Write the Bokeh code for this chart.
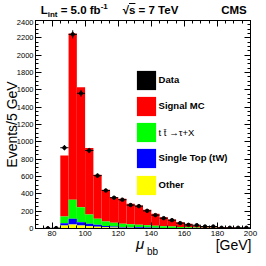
import numpy as np
from bokeh.plotting import figure
from bokeh.layouts import column
from bokeh.models import (LinearAxis, FixedTicker, Legend, LegendItem, Div,
                          Range1d, CustomJSTickFormatter)
from bokeh.embed import file_html
from bokeh.resources import INLINE

# ---------------- data ----------------
bin_lo = [70, 75, 80, 85, 90, 95, 100, 105, 110, 115, 120, 125, 130,
          135, 140, 145, 150, 155, 160, 165, 170, 175, 180, 185, 190, 195]
bin_width = 5
other = [0, 0, 0, 35, 46, 35, 27, 20, 15, 12, 10, 8, 7,
         6, 5, 4, 4, 3, 3, 2, 2, 2, 1, 1, 1, 1]
single_top = [0, 0, 0, 26, 66, 38, 27, 22, 15, 10, 8, 7, 6,
              5, 4, 3, 3, 2, 2, 2, 1, 1, 1, 1, 0, 0]
ttbar = [0, 0, 0, 77, 219, 173, 107, 70, 51, 43, 36, 35, 30,
         26, 22, 18, 15, 12, 10, 8, 7, 5, 4, 3, 3, 2]
signal_mc = [4, 4, 5, 704, 1919, 1384, 767, 507, 365, 296, 288, 235, 222,
             178, 138, 106, 82, 56, 39, 23, 16, 12, 9, 7, 5, 4]
data = [0, 2, 4, 932, 2240, 1560, 900, 610, 438, 355, 332, 270, 258,
        204, 154, 119, 96, 62, 42, 38, 23, 23, 8, 8, 8, 8]
data_err = [0, 25, 25, 30.5, 47.3, 39.5, 30, 24.7, 21, 18.8, 18.2, 16.4, 16,
            14.3, 12.4, 10.9, 9.8, 7.9, 6.5, 6.2, 4.8, 4.8, 2.8, 2.8, 2.8, 2.8]
x_major_ticks = [80, 100, 120, 140, 160, 180, 200]
x_minor_ticks = list(range(70, 201, 5))
y_major_ticks = list(range(0, 2401, 200))
y_minor_ticks = list(range(0, 2401, 50))
legend_labels = ["Data", "Signal MC", "t t\u0304 \u2192\u03c4+X", "Single Top (tW)", "Other"]
y_title = "Events/5 GeV"

FONT = "Liberation Sans"
W = 258

lo = np.array(bin_lo, dtype=float)
hi = lo + bin_width
ctr = lo + bin_width / 2
s1 = np.array(other, dtype=float)
s2 = s1 + np.array(single_top, dtype=float)
s3 = s2 + np.array(ttbar, dtype=float)
s4 = s3 + np.array(signal_mc, dtype=float)

p = figure(width=W, frame_height=208, x_range=Range1d(70, 200), y_range=Range1d(0, 2400),
           output_backend="svg", toolbar_location=None,
           min_border_left=35, min_border_right=8, min_border_top=1, min_border_bottom=12,
           x_axis_location=None, y_axis_location=None, margin=(0, 0, 0, 0))
p.grid.visible = False
p.outline_line_color = "black"
p.background_fill_color = "white"
p.border_fill_color = "white"

r_sig = p.quad(left=lo, right=hi, bottom=s3, top=s4, fill_color="#ff0000", line_color=None)
r_tt = p.quad(left=lo, right=hi, bottom=s2, top=s3, fill_color="#00ff00", line_color=None)
r_st = p.quad(left=lo, right=hi, bottom=s1, top=s2, fill_color="#0000ff", line_color=None)
r_oth = p.quad(left=lo, right=hi, bottom=0, top=s1, fill_color="#ffff00", line_color=None)

d = np.array(data, dtype=float)
e = np.array(data_err, dtype=float)
m = d > 0
# zero-area quads at the data points: only used to give the legend a black box
r_dat_leg = p.quad(left=ctr[m], right=ctr[m], bottom=d[m], top=d[m], fill_color="black", line_color=None)
p.segment(x0=lo[m], x1=hi[m], y0=d[m], y1=d[m], line_color="black", line_width=1)
p.segment(x0=ctr[m], x1=ctr[m], y0=d[m] - e[m], y1=d[m] + e[m], line_color="black", line_width=1)
p.scatter(x=ctr[m], y=d[m], marker="circle", size=3.5, fill_color="black", line_color="black")


def style_axis(ax, label_size):
    ax.axis_line_color = "black"
    ax.major_tick_line_color = "black"
    ax.minor_tick_line_color = "black"
    ax.major_tick_in = 6
    ax.major_tick_out = 0
    ax.minor_tick_in = 3
    ax.minor_tick_out = 0
    if label_size:
        ax.major_label_text_font = FONT
        ax.major_label_text_font_size = label_size
        ax.major_label_text_color = "black"
        ax.major_label_standoff = 2
    else:
        ax.formatter = CustomJSTickFormatter(code="return ''")
        ax.major_label_standoff = 0


for loc, size in (("below", "8px"), ("above", None)):
    ax = LinearAxis(ticker=FixedTicker(ticks=x_major_ticks, minor_ticks=x_minor_ticks))
    style_axis(ax, size)
    p.add_layout(ax, loc)
for loc, size in (("left", "7.5px"), ("right", None)):
    ax = LinearAxis(ticker=FixedTicker(ticks=y_major_ticks, minor_ticks=y_minor_ticks))
    style_axis(ax, size)
    if size:
        ax.axis_label = y_title
        ax.axis_label_text_font = FONT
        ax.axis_label_text_font_size = "14px"
        ax.axis_label_text_font_style = "normal"
        ax.axis_label_text_color = "black"
        ax.axis_label_standoff = -6
    p.add_layout(ax, loc)


def legend(items, loc, style, spacing):
    lg = Legend(items=items, location=loc, padding=0, margin=0, spacing=spacing,
                glyph_width=24, glyph_height=24, label_height=24, label_standoff=1,
                label_text_font=FONT, label_text_font_size="9.5px",
                label_text_font_style=style, label_text_color="black",
                border_line_color=None, background_fill_alpha=0)
    p.add_layout(lg)


legend([LegendItem(label=legend_labels[0], renderers=[r_dat_leg]),
        LegendItem(label=legend_labels[1], renderers=[r_sig])], (98.6, 110.4), "bold", 2)
legend([LegendItem(label=legend_labels[2], renderers=[r_tt])], (98.6, 83.9), "normal", 2)
legend([LegendItem(label=legend_labels[3], renderers=[r_st]),
        LegendItem(label=legend_labels[4], renderers=[r_oth])], (98.6, 31.4), "bold", 3)

# ---------------- header and x-axis title as real HTML text ----------------
box = ("position:relative;width:%dpx;height:%dpx;font-family:'Liberation Sans',Arial,sans-serif;"
       "line-height:1;color:black;white-space:nowrap;overflow:visible;margin:0;padding:0")
header_html = (
    '<div style="' + box % (W, 19) + ';font-weight:bold;font-size:11.5px">'
    '<span style="position:absolute;left:40.7px;top:5.3px">L'
    '<span style="font-size:8px;position:relative;top:3px">int</span> = 5.0 fb'
    '<span style="font-size:8px;position:relative;top:-5px">-1</span></span>'
    '<span style="position:absolute;left:122.7px;top:5.3px">\u221a'
    '<span style="text-decoration:overline">s</span> = 7 TeV</span>'
    '<span style="position:absolute;right:11.3px;top:5.3px">CMS</span>'
    '</div>'
)
xtitle_html = (
    '<div style="' + box % (W, 18) + '">'
    '<span style="position:absolute;left:136px;top:-3.7px;font-size:15px;font-style:italic">\u03bc</span>'
    '<span style="position:absolute;left:147px;top:6.5px;font-size:10px">bb</span>'
    '<span style="position:absolute;right:6.5px;top:-1.9px;font-size:14px">[GeV]</span>'
    '</div>'
)
header = Div(text=header_html, width=W, height=19, margin=(0, 0, 0, 0),
             styles={"overflow": "visible"})
xtitle = Div(text=xtitle_html, width=W, height=18, margin=(0, 0, 0, 0),
             styles={"overflow": "visible"})

page = column(header, p, xtitle, spacing=0, margin=(0, 0, 0, 0))

open("out.html", "w").write(file_html(page, INLINE))
